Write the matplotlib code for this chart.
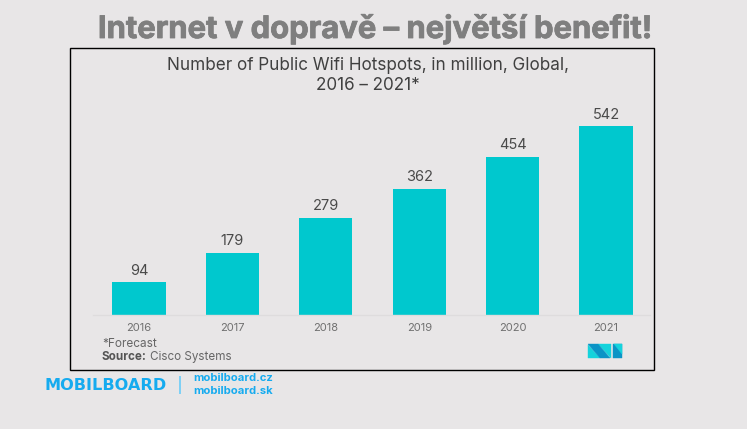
import matplotlib
matplotlib.use("Agg")
import matplotlib.pyplot as plt
import matplotlib.patheffects as pe
from matplotlib.patches import Rectangle, Polygon

years = ["2016", "2017", "2018", "2019", "2020", "2021"]
hotspots = [94, 179, 279, 362, 454, 542]

W, H = 747, 429
BG = "#E8E6E7"
plt.rcParams['font.family'] = ['Inter', 'DejaVu Sans']

fig = plt.figure(figsize=(W / 100, H / 100), dpi=100, facecolor=BG)

def fx(x): return x / W
def fy(y): return 1 - y / H

# frame
fig.add_artist(Rectangle((fx(70), fy(370)), 584 / W, 322 / H, transform=fig.transFigure,
                         fill=False, edgecolor="black", linewidth=1.0))

# chart axes
L, R, T, B = 93, 650, 100, 315
ax = fig.add_axes([fx(L), fy(B), (R - L) / W, (B - T) / H], facecolor="none")
ax.bar(range(len(years)), hotspots, width=0.57, color="#00C8CE")
ax.set_xlim(-0.4925, 5.47)
ax.set_ylim(0, 616)
ax.set_xticks(range(len(years)), years)
ax.tick_params(axis="x", length=0, pad=6, labelsize=8, labelcolor="#707070")
ax.set_yticks([])
for s in ("top", "left", "right"):
    ax.spines[s].set_visible(False)
ax.spines["bottom"].set_color("#DEDCDD")
ax.spines["bottom"].set_linewidth(1)
for i, v in enumerate(hotspots):
    ax.annotate(str(v), (i, v), xytext=(0, 3), textcoords="offset points", ha="center", va="bottom",
                fontsize=10.5, color="#4a4a4a")

# headline & chart title
fig.text(fx(375), fy(29), "Internet v dopravě – největší benefit!", ha="center", va="center",
         fontsize=22.3, fontweight="bold", color="#7F7F7F",
         path_effects=[pe.withStroke(linewidth=0.6, foreground="#7F7F7F")])
fig.text(fx(368), fy(65), "Number of Public Wifi Hotspots, in million, Global,", ha="center", va="center",
         fontsize=12.3, color="#404040")
fig.text(fx(368), fy(85), "2016 – 2021*", ha="center", va="center", fontsize=12.3, color="#404040")

# notes
fig.text(fx(102), fy(344), "*Forecast", ha="left", va="center", fontsize=8.5, color="#666666")
fig.text(fx(102), fy(357), "Source:", ha="left", va="center", fontsize=8.4, fontweight="bold", color="#555555")
fig.text(fx(150), fy(357), "Cisco Systems", ha="left", va="center", fontsize=8.4, color="#666666")

# footer branding
BLUE = "#16ABEF"
fig.text(fx(44), fy(385), "MOBILBOARD", ha="left", va="center", fontsize=11.6, fontweight="bold",
         family=["DejaVu Sans"], color=BLUE)
fig.add_artist(Rectangle((fx(179), fy(394)), 2 / W, 18 / H, transform=fig.transFigure,
                         facecolor="#7FD0F5", edgecolor="none"))
fig.text(fx(193), fy(378), "mobilboard.cz", ha="left", va="center", fontsize=8.1, fontweight="bold", color=BLUE)
fig.text(fx(193), fy(391), "mobilboard.sk", ha="left", va="center", fontsize=8.1, fontweight="bold", color=BLUE)

# small corner logo
def poly(pts, c):
    fig.add_artist(Polygon([(fx(x), fy(y)) for x, y in pts], closed=True, transform=fig.transFigure,
                           facecolor=c, edgecolor=c, linewidth=0.3))
CY, DK = "#14D3DC", "#0A94C6"
poly([(588, 345), (588, 358), (600, 358)], CY)
poly([(598, 344), (611, 344), (611, 358)], CY)
poly([(588, 344), (598, 344), (610, 358), (600, 358)], DK)
poly([(613, 344), (622, 344), (622, 358), (613, 358)], DK)
poly([(614, 344), (622, 344), (622, 354)], CY)

fig.savefig("out.png", dpi=100, facecolor=BG)
